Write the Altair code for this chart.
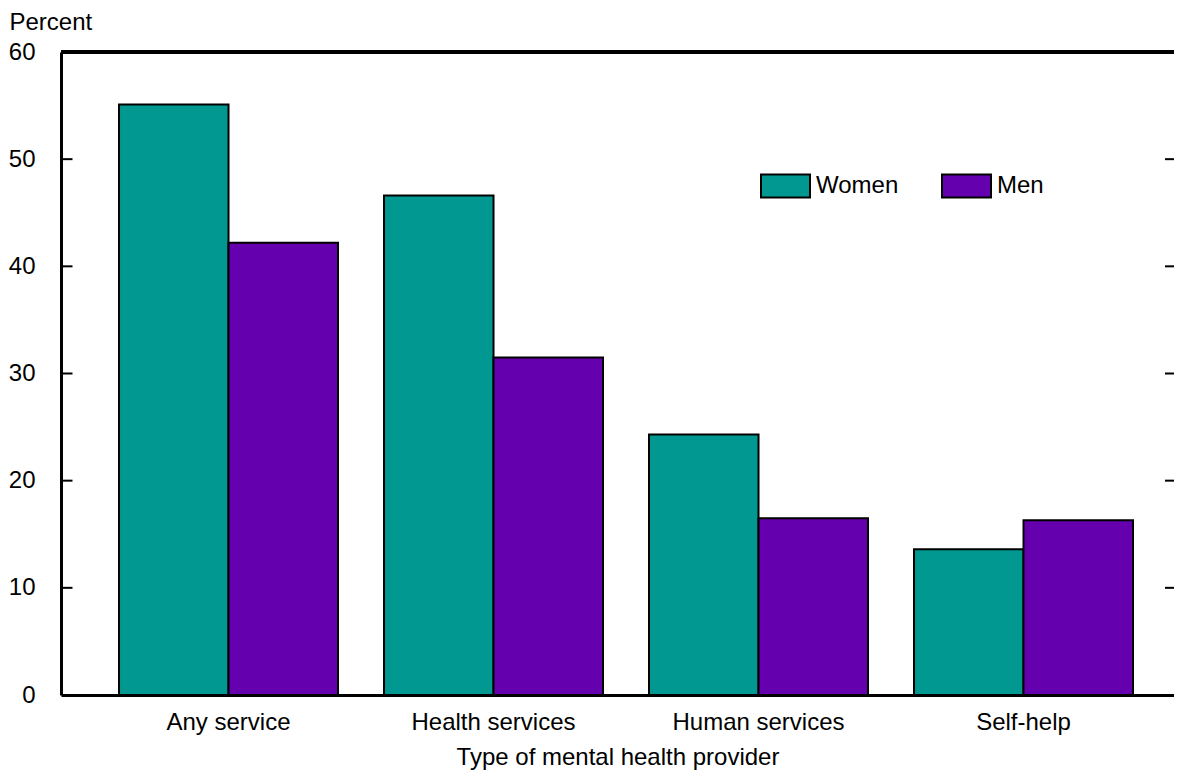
import altair as alt
import pandas as pd

categories = ["Any service", "Health services", "Human services", "Self-help"]
groups = ["Women", "Men"]
women = [55.1, 46.6, 24.3, 13.6]
men = [42.2, 31.5, 16.5, 16.3]
tick_values = [10, 20, 30, 40, 50]
colors = ["#009890", "#6400ae"]

rows = []
for c, w, m in zip(categories, women, men):
    rows.append({"cat": c, "sex": "Women", "val": w})
    rows.append({"cat": c, "sex": "Men", "val": m})
df = pd.DataFrame(rows)
ticks_df = pd.DataFrame({"v": tick_values})

FONT = "Liberation Sans"
FS = 24
W, H = 1113, 643

yscale = alt.Scale(domain=[0, 60], nice=False, zero=True)

bars = alt.Chart(df).mark_bar(stroke="black", strokeWidth=2, opacity=1).encode(
    x=alt.X("cat:N", sort=categories,
            scale=alt.Scale(paddingInner=0.1736, paddingOuter=0.1868, align=0.586),
            axis=alt.Axis(title="Type of mental health provider", labelAngle=0,
                          domain=True, domainColor="black", domainWidth=3,
                          ticks=False, tickSize=0, labelPadding=15,
                          labelFontSize=FS, labelFont=FONT, labelColor="black",
                          titleFontSize=FS, titleFont=FONT, titleColor="black",
                          titleFontWeight="normal", titleY=69,
                          titleBaseline="alphabetic")),
    xOffset=alt.XOffset("sex:N", sort=groups, scale=alt.Scale(paddingInner=0, paddingOuter=0)),
    y=alt.Y("val:Q", scale=yscale,
            axis=alt.Axis(title="Percent", values=[0, 10, 20, 30, 40, 50, 60],
                          grid=False, domain=True, domainColor="black", domainWidth=3,
                          ticks=False, tickSize=0, labelPadding=26,
                          labelFontSize=FS, labelFont=FONT, labelColor="black",
                          titleFontSize=FS, titleFont=FONT, titleColor="black",
                          titleFontWeight="normal", titleAngle=0, titleAlign="left",
                          titleBaseline="alphabetic", titleX=-52, titleY=-22.5)),
    color=alt.Color("sex:N", sort=groups,
                    scale=alt.Scale(domain=groups, range=colors),
                    legend=alt.Legend(orient="none", legendX=699, legendY=108,
                                      direction="horizontal", title=None,
                                      symbolType="M-1,-0.47L1,-0.47L1,0.47L-1,0.47Z",
                                      symbolSize=2401, symbolStrokeColor="black",
                                      symbolStrokeWidth=2, symbolOpacity=1,
                                      labelFontSize=FS, labelFont=FONT, labelColor="black",
                                      labelOffset=5, columnPadding=39, padding=0)),
)

top_rule = alt.Chart(ticks_df).mark_rule(color="black", strokeWidth=3.5).encode(
    y=alt.datum(60, scale=yscale)
)

left_ticks = alt.Chart(ticks_df).mark_tick(orient="horizontal", size=11, thickness=2,
                                           color="black", opacity=1).encode(
    y=alt.Y("v:Q", scale=yscale), x=alt.value(6)
)
right_ticks = alt.Chart(ticks_df).mark_tick(orient="horizontal", size=9, thickness=2,
                                            color="black", opacity=1).encode(
    y=alt.Y("v:Q", scale=yscale), x=alt.value(W - 4.5)
)

chart = alt.layer(bars, top_rule, left_ticks, right_ticks).properties(
    width=W, height=H,
    padding={"left": 53, "top": 44, "right": 0, "bottom": 75},
    autosize=alt.AutoSizeParams(type="none"),
).configure_view(strokeWidth=0).configure(background="white")

chart.save("out.html", embed_options={"renderer": "svg", "actions": False})
